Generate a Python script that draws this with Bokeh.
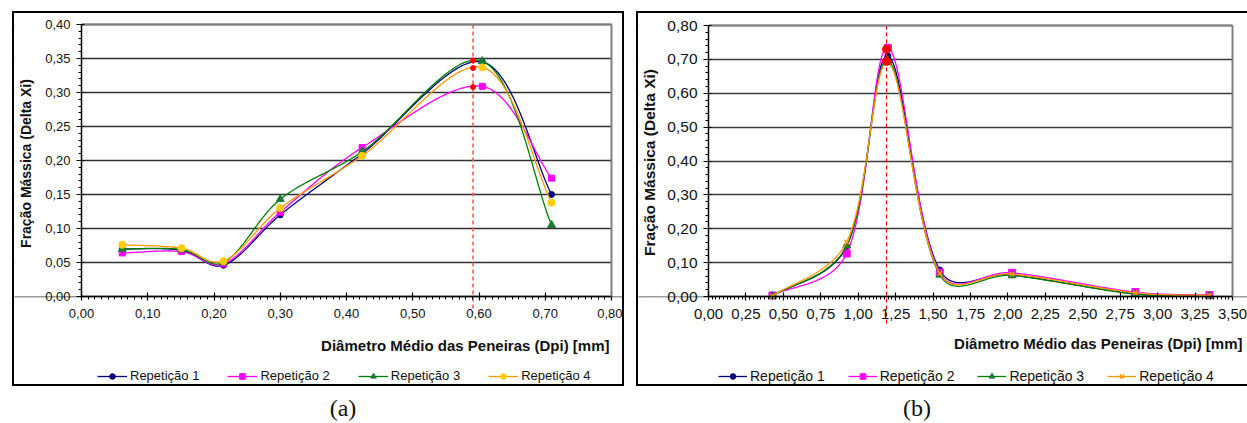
import numpy as np
from bokeh.plotting import figure
from bokeh.models import (Range1d, SingleIntervalTicker, FixedTicker, CustomJSTickFormatter, Legend,
                          LegendItem, Label, LinearAxis, BoxAnnotation, Div, GlobalInlineStyleSheet)
from bokeh.layouts import row, column
from bokeh.embed import file_html
from bokeh.resources import INLINE

# ------------------------------------------------------------------ data
series_names = ["Repetição 1", "Repetição 2", "Repetição 3", "Repetição 4"]

# panel (a)
a_dpi = [0.0616, 0.151, 0.2144, 0.300, 0.4236, 0.605, 0.7095]
a_rep1 = [0.070, 0.068, 0.046, 0.120, 0.210, 0.345, 0.150]
a_rep2 = [0.064, 0.066, 0.048, 0.124, 0.219, 0.309, 0.174]
a_rep3 = [0.070, 0.069, 0.050, 0.143, 0.213, 0.346, 0.105]
a_rep4 = [0.076, 0.071, 0.052, 0.130, 0.207, 0.337, 0.138]
a_peak_x = 0.591
a_peak_y = [0.347, 0.336, 0.308]

# panel (b)
b_dpi = [0.427, 0.923, 1.198, 1.545, 2.028, 2.851, 3.346]
b_rep1 = [0.002, 0.148, 0.710, 0.078, 0.064, 0.008, 0.002]
b_rep2 = [0.003, 0.127, 0.734, 0.071, 0.070, 0.013, 0.004]
b_rep3 = [0.001, 0.150, 0.697, 0.064, 0.062, 0.007, 0.002]
b_rep4 = [0.001, 0.161, 0.690, 0.068, 0.066, 0.011, 0.003]
b_peak_x = 1.189
b_peak_y = [0.730, 0.694]

x_title = "Diâmetro Médio das Peneiras (Dpi) [mm]"
y_title = "Fração Mássica (Delta Xi)"

FONT = "Liberation Sans"
LINE_COLORS = ["#000080", "#FF00FF", "#008000", "#FF9900"]


def smooth(xs, ys, sx, sy, k=0.5, n=40):
    """Excel-like smoothed Bezier through the points (computed in pixel space)."""
    P = np.column_stack([np.asarray(xs) * sx, np.asarray(ys) * sy])
    m = len(P)
    out = [P[0]]
    t = np.linspace(0, 1, n)[1:][:, None]
    for i in range(m - 1):
        p0 = P[i - 1] if i > 0 else P[i]
        p1, p2 = P[i], P[i + 1]
        p3 = P[i + 2] if i + 2 < m else P[i + 1]
        d01 = np.linalg.norm(p1 - p0)
        d12 = np.linalg.norm(p2 - p1)
        d23 = np.linalg.norm(p3 - p2)
        w1 = d12 / (d01 + d12) / 3.0
        w2 = d12 / (d12 + d23) / 3.0
        c1 = p1 + (p2 - p0) * (k * w1 + (1 - k) / 6.0)
        c2 = p2 - (p3 - p1) * (k * w2 + (1 - k) / 6.0)
        B = ((1 - t) ** 3) * p1 + 3 * ((1 - t) ** 2) * t * c1 + 3 * (1 - t) * t ** 2 * c2 + t ** 3 * p2
        out.extend(B)
    out = np.array(out)
    return out[:, 0] / sx, out[:, 1] / sy


def build(xs, reps, markers, mcolors, msizes, xmax, ymax, xstep, ystep, x_minor, y_minor,
          fig_w, fig_h, plot_left, plot_top, plot_w, plot_h,
          tick_fs, ytick_fs, ylab_fs, leg_fs, leg_spacing, leg_glyph_w, leg_loc,
          title_xy, ytitle_xy, peak_x, peak_y, peak_size, dash_color, dash_width, dash_px,
          margin, grid_color):
    # the frame is the whole canvas; the plot area inside it is placed through the ranges
    sx = plot_w / xmax
    sy = plot_h / ymax
    plot_bottom = fig_h - plot_top - plot_h          # px below the plot area
    x_start = -plot_left / sx
    x_end = (fig_w - plot_left) / sx
    y_start = -plot_bottom / sy
    y_end = (fig_h - plot_bottom) / sy

    p = figure(width=fig_w, height=fig_h,
               x_range=Range1d(x_start, x_end), y_range=Range1d(y_start, y_end),
               output_backend="svg", toolbar_location=None,
               min_border_left=0, min_border_right=0, min_border_top=0, min_border_bottom=0,
               background_fill_color="white", border_fill_color="white")
    p.margin = margin
    p.styles = {"outline": "2px solid black"}
    p.outline_line_color = None

    fmt = CustomJSTickFormatter(code="return tick.toFixed(2).replace('.', ',');")
    xax = p.xaxis[0]
    yax = p.yaxis[0]
    xax.ticker = SingleIntervalTicker(interval=xstep, num_minor_ticks=x_minor)
    yax.ticker = SingleIntervalTicker(interval=ystep, num_minor_ticks=y_minor)
    xax.formatter = fmt
    yax.formatter = fmt
    xax.fixed_location = 0
    yax.fixed_location = 0
    xax.bounds = (0, xmax * 1.000001)
    yax.bounds = (0, ymax * 1.000001)
    for ax in (xax, yax):
        ax.axis_line_color = "black"
        ax.axis_line_width = 1.5
        ax.major_tick_line_color = "black"
        ax.major_tick_line_width = 1.2
        ax.minor_tick_line_color = "black"
        ax.minor_tick_line_width = 1
        ax.minor_tick_in = 0
        ax.minor_tick_out = 3
        ax.major_label_text_font = FONT
        ax.major_label_text_color = "#111111"
    xax.major_tick_in = 4
    xax.major_tick_out = 4
    yax.major_tick_in = 3
    yax.major_tick_out = 5
    xax.major_label_text_font_size = tick_fs
    yax.major_label_text_font_size = ytick_fs
    xax.major_label_standoff = 8
    yax.major_label_standoff = 6

    # grey right / top border of the plot area
    for side, loc, bnds in (("right", xmax, (0, ymax)), ("above", ymax, (0, xmax))):
        b = LinearAxis(ticker=FixedTicker(ticks=[]), fixed_location=loc, bounds=bnds,
                       axis_line_color="#808080", axis_line_width=2,
                       major_tick_line_color=None, minor_tick_line_color=None)
        p.add_layout(b, side)

    p.xgrid.visible = False
    p.ygrid.bounds = (0, ymax * 1.000001)
    p.ygrid.grid_line_color = grid_color
    p.ygrid.grid_line_width = 1.4
    # keep the grid lines inside the plot area
    p.add_layout(BoxAnnotation(left=xmax, bottom=0, fill_color="white", fill_alpha=1,
                               line_alpha=0, level="underlay"))
    p.add_layout(BoxAnnotation(right=0, bottom=0, fill_color="white", fill_alpha=1,
                               line_alpha=0, level="underlay"))

    items = []
    for name, ys, lc, mk, mc, ms in zip(series_names, reps, LINE_COLORS, markers, mcolors, msizes):
        cx, cy = smooth(xs, ys, sx, sy)
        lr = p.line(cx, cy, line_color=lc, line_width=1.3)
        if mk == "x":
            sr = p.scatter(xs, ys, marker=mk, size=ms, line_color=mc, line_width=1.5)
        else:
            sr = p.scatter(xs, ys, marker=mk, size=ms, fill_color=mc, line_color=mc)
        items.append(LegendItem(label=name, renderers=[lr, sr]))

    # dashed reference line through the peak, and the peak points
    p.segment(x0=[peak_x], y0=[ymax], x1=[peak_x], y1=[-dash_px / sy],
              line_color=dash_color, line_width=dash_width, line_dash="4 3")
    p.scatter([peak_x] * len(peak_y), peak_y, marker="circle", size=peak_size,
              fill_color="#FF0000", line_color="#FF0000")

    p.add_layout(Label(x=title_xy[0], y=title_xy[1], x_units="screen", y_units="screen",
                       text=x_title, text_align="right", text_baseline="middle",
                       text_font=FONT, text_font_style="bold", text_font_size="15px",
                       text_color="#111111"))
    p.add_layout(Label(x=ytitle_xy[0], y=ytitle_xy[1], x_units="screen", y_units="screen",
                       angle=np.pi / 2, text=y_title, text_align="center", text_baseline="middle",
                       text_font=FONT, text_font_style="bold", text_font_size=ylab_fs,
                       text_color="#111111"))

    legend = Legend(items=items, location=leg_loc, orientation="horizontal",
                    glyph_width=leg_glyph_w, glyph_height=14, label_height=14, label_standoff=3,
                    spacing=leg_spacing, padding=0, margin=0,
                    border_line_alpha=0, background_fill_alpha=0,
                    label_text_font=FONT, label_text_font_size=leg_fs,
                    label_text_color="#111111")
    p.add_layout(legend)
    return p


p1 = build(a_dpi, [a_rep1, a_rep2, a_rep3, a_rep4],
           ["circle", "square", "triangle", "circle"],
           ["#000080", "#FF00FF", "#1B7A34", "#FFCC00"], [6, 6, 8, 7],
           0.8, 0.4, 0.1, 0.05, 10, 5,
           608, 371, 67, 11, 530, 272,
           "13px", "13px", "14px", "13px", 28, 30, (83, 1),
           (595, 39), (11, 221), a_peak_x, a_peak_y, 5, "#FF5A5A", 1.6, 16,
           (13, 0, 0, 14), "#303030")

p2 = build(b_dpi, [b_rep1, b_rep2, b_rep3, b_rep4],
           ["circle", "square", "triangle", "x"],
           ["#000080", "#FF00FF", "#1B7A34", "#FF9900"], [6, 7, 8, 6],
           3.5, 0.8, 0.25, 0.10, 10, 5,
           609, 371, 70, 12, 524, 271,
           "15px", "15.5px", "15.5px", "14px", 23, 29, (80, 0),
           (604, 41), (11, 222), b_peak_x, b_peak_y, 8, "#FF0000", 1.2, 29,
           (13, 0, 0, 16), "#3a3a3a")

p1.stylesheets = [GlobalInlineStyleSheet(css="html { overflow: hidden; }")]

cap_style = {"font-family": "Liberation Serif", "font-size": "24px", "line-height": "20px",
             "text-align": "center", "color": "#111111"}
cap_a = Div(text="(a)", width=60, height=20, margin=(14, 0, 0, 313), styles=cap_style)
cap_b = Div(text="(b)", width=60, height=20, margin=(14, 0, 0, 265), styles=cap_style)

layout = row(column(p1, cap_a), column(p2, cap_b))

open("out.html", "w").write(file_html(layout, INLINE))
